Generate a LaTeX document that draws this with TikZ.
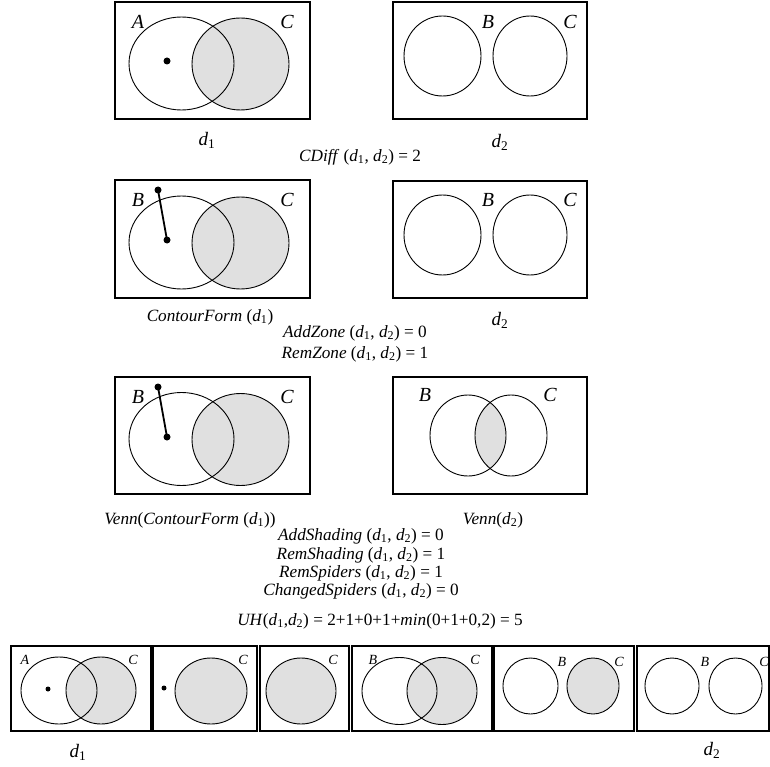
\documentclass[tikz,border=0pt]{standalone}
\usepackage{fontspec}
\setmainfont{Liberation Serif}
\definecolor{shadegray}{HTML}{E0E0E0}
\newcommand\dd[1]{\textit{d}\textsubscript{#1}}
\begin{document}
\begin{tikzpicture}[x=1pt,y=-1pt,
  frame/.style={draw, line width=1.5pt},
  contour/.style={draw, line width=0.9pt},
  shaded/.style={fill=shadegray},
  spot/.style={circle, fill, inner sep=0pt, minimum size=7pt},
  smallspot/.style={circle, fill, inner sep=0pt, minimum size=5pt},
  leg/.style={line width=1.8pt},
  lbl/.style={font=\fontsize{20}{23}\selectfont\itshape, inner sep=0pt},
  slbl/.style={font=\fontsize{14}{16}\selectfont\itshape, inner sep=0pt},
  txt/.style={font=\fontsize{17.2}{20}\selectfont, inner sep=0pt},
  captxt/.style={font=\fontsize{19}{22}\selectfont, inner sep=0pt}]
\useasboundingbox (0,0) rectangle (770,767);

% ---------- Row 1 ----------
\draw[frame] (115,2) rectangle (310,119);
\fill[shaded] (240.5,64) ellipse [x radius=48.5pt, y radius=46pt];
\draw[contour] (181.5,63.5) ellipse [x radius=52.5pt, y radius=46.5pt];
\draw[contour] (240.5,64) ellipse [x radius=48.5pt, y radius=46pt];
\node[spot] (s1) at (167,61) {};
\node[lbl] (a1) at (138,22) {A};
\node[lbl] (c1) at (287,22) {C};

\draw[frame] (393,2) rectangle (587,119);
\draw[contour] (442.5,56) ellipse [x radius=38.5pt, y radius=40pt];
\draw[contour] (530,56) ellipse [x radius=37pt, y radius=40pt];
\node[lbl] (b2) at (488,22) {B};
\node[lbl] (c2) at (570,22) {C};

\node[captxt] (t1) at (207,140) {\dd1};
\node[captxt] (t2) at (500,142) {\dd2};
\node[txt] (cdiff) at (360,157) {\textit{CDiff} (\dd1, \dd2) = 2};

% ---------- Row 2 ----------
\draw[frame] (115,180) rectangle (310,298);
\fill[shaded] (240.5,243) ellipse [x radius=48.5pt, y radius=46pt];
\draw[contour] (181.5,242.5) ellipse [x radius=52.5pt, y radius=46.5pt];
\draw[contour] (240.5,243) ellipse [x radius=48.5pt, y radius=46pt];
\node[spot] (s2a) at (158,190) {};
\node[spot] (s2b) at (167,240) {};
\draw[leg] (s2a.center) -- (s2b.center);
\node[lbl] (b3) at (138,200) {B};
\node[lbl] (c3) at (287,200) {C};

\draw[frame] (393,181) rectangle (587,298);
\draw[contour] (442.5,235) ellipse [x radius=38.5pt, y radius=40pt];
\draw[contour] (530,235) ellipse [x radius=37pt, y radius=40pt];
\node[lbl] (b4) at (488,200) {B};
\node[lbl] (c4) at (570,200) {C};

\node[txt] (t3) at (210,317) {\textit{ContourForm} (\dd1)};
\node[captxt] (t4) at (500,320) {\dd2};
\node[txt] (addz) at (355,333) {\textit{AddZone} (\dd1, \dd2) = 0};
\node[txt] (remz) at (355,354) {\textit{RemZone} (\dd1, \dd2) = 1};

% ---------- Row 3 ----------
\draw[frame] (115,377) rectangle (310,494);
\fill[shaded] (240.5,439.5) ellipse [x radius=48.5pt, y radius=46pt];
\draw[contour] (181.5,439) ellipse [x radius=52.5pt, y radius=46.5pt];
\draw[contour] (240.5,439.5) ellipse [x radius=48.5pt, y radius=46pt];
\node[spot] (s3a) at (158,387) {};
\node[spot] (s3b) at (167,437) {};
\draw[leg] (s3a.center) -- (s3b.center);
\node[lbl] (b5) at (138,397) {B};
\node[lbl] (c5) at (287,397) {C};

\draw[frame] (393,377) rectangle (587,494);
\begin{scope}
  \clip (468,435.5) ellipse [x radius=38pt, y radius=40.5pt];
  \fill[shaded] (511,435.5) ellipse [x radius=36pt, y radius=40.5pt];
\end{scope}
\draw[contour] (468,435.5) ellipse [x radius=38pt, y radius=40.5pt];
\draw[contour] (511,435.5) ellipse [x radius=36pt, y radius=40.5pt];
\node[lbl] (b6) at (425,395) {B};
\node[lbl] (c6) at (550,395) {C};

\node[txt] (t5) at (190,520) {\textit{Venn}(\textit{ContourForm} (\dd1))};
\node[txt] (t6) at (493,520) {\textit{Venn}(\dd2)};
\node[txt] (adds) at (361,536) {\textit{AddShading} (\dd1, \dd2) = 0};
\node[txt] (rems) at (361,555) {\textit{RemShading} (\dd1, \dd2) = 1};
\node[txt] (remsp) at (361,573) {\textit{RemSpiders} (\dd1, \dd2) = 1};
\node[txt] (chsp) at (361,591) {\textit{ChangedSpiders} (\dd1, \dd2) = 0};
\node[txt] (uh) at (380,621) {\textit{UH}(\dd1,\dd2) = 2+1+0+1+\textit{min}(0+1+0,2) = 5};

% ---------- Bottom row ----------
\draw[frame] (11,646) rectangle (151,731);
\fill[shaded] (101,690.5) ellipse [x radius=35pt, y radius=33.5pt];
\draw[contour] (59,690.5) ellipse [x radius=38pt, y radius=33.5pt];
\draw[contour] (101,690.5) ellipse [x radius=35pt, y radius=33.5pt];
\node[smallspot] (s4) at (48,689) {};
\node[slbl] (a7) at (25,660) {A};
\node[slbl] (c7) at (133,660) {C};

\draw[frame] (153,646) rectangle (257,731);
\fill[shaded] (211,691) ellipse [x radius=36pt, y radius=33pt];
\draw[contour] (211,691) ellipse [x radius=36pt, y radius=33pt];
\node[smallspot] (s5) at (164,688) {};
\node[slbl] (c8) at (243,660) {C};

\draw[frame] (260,646) rectangle (349,731);
\fill[shaded] (301,691) ellipse [x radius=35pt, y radius=33pt];
\draw[contour] (301,691) ellipse [x radius=35pt, y radius=33pt];
\node[slbl] (c9) at (333,660) {C};

\draw[frame] (352,646) rectangle (492,731);
\fill[shaded] (442,691) ellipse [x radius=35pt, y radius=33.5pt];
\draw[contour] (399.5,691) ellipse [x radius=37.5pt, y radius=33.5pt];
\draw[contour] (442,691) ellipse [x radius=35pt, y radius=33.5pt];
\node[slbl] (b10) at (373,660) {B};
\node[slbl] (c10) at (475,660) {C};

\draw[frame] (494,646) rectangle (634,731);
\fill[shaded] (593,686) ellipse [x radius=26pt, y radius=28pt];
\draw[contour] (530.5,686) ellipse [x radius=27.5pt, y radius=28pt];
\draw[contour] (593,686) ellipse [x radius=26pt, y radius=28pt];
\node[slbl] (b11) at (562,662) {B};
\node[slbl] (c11) at (619,662) {C};

\draw[frame] (637,646) rectangle (769,731);
\draw[contour] (672,686) ellipse [x radius=27pt, y radius=28pt];
\draw[contour] (735.5,686) ellipse [x radius=26.5pt, y radius=28pt];
\node[slbl] (b12) at (705,662) {B};
\node[slbl] (c12) at (764,662) {C};

\node[captxt] (t7) at (78,752) {\dd1};
\node[captxt] (t8) at (712,750) {\dd2};
\end{tikzpicture}
\end{document}
